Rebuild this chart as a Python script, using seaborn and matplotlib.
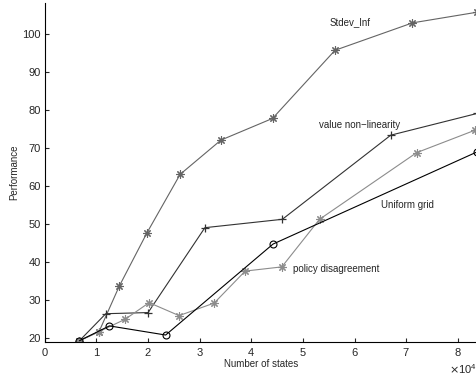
import pandas as pd
import matplotlib
import matplotlib.pyplot as plt
import seaborn as sns
from matplotlib.ticker import ScalarFormatter

# values (states, performance)
stdev_x = [6700, 10500, 14400, 19800, 26200, 34100, 44100, 56200, 71200, 83700]
stdev_y = [19.3, 21.7, 33.6, 47.7, 63.0, 72.0, 77.7, 95.6, 102.8, 105.6]

nonlin_x = [6700, 11800, 20000, 31000, 46000, 67000, 83700]
nonlin_y = [19.3, 26.4, 26.7, 49.0, 51.2, 73.3, 79.0]

policy_x = [6700, 10500, 15500, 20200, 26000, 32800, 38800, 45900, 53200, 72000, 83300]
policy_y = [19.3, 21.7, 24.9, 29.3, 25.9, 29.2, 37.6, 38.7, 51.2, 68.7, 74.6]

grid_x = [6700, 12500, 23400, 44200, 83700]
grid_y = [19.3, 23.2, 20.8, 44.7, 68.9]

sns.set_style('white')
plt.rcParams['font.family'] = ['Liberation Sans', 'DejaVu Sans']

fig = plt.figure(figsize=(4.77, 3.85), dpi=100)
ax = fig.add_axes([0.094, 0.112, 0.906, 0.88])

# matlab-style asterisk: 8 spokes
star = (8, 2, 0)
sns.lineplot(x=stdev_x, y=stdev_y, ax=ax, color='#646464', marker=star, markersize=6,
             markeredgecolor='#646464', markeredgewidth=0.8, linewidth=0.8, sort=False)
sns.lineplot(x=nonlin_x, y=nonlin_y, ax=ax, color='#323232', marker='+', markersize=6,
             markeredgecolor='#323232', markeredgewidth=0.9, linewidth=0.8, sort=False)
sns.lineplot(x=policy_x, y=policy_y, ax=ax, color='#8c8c8c', marker=star, markersize=6,
             markeredgecolor='#8c8c8c', markeredgewidth=0.8, linewidth=0.8, sort=False)
sns.lineplot(x=grid_x, y=grid_y, ax=ax, color='black', marker='o', markersize=5,
             markerfacecolor='none', markeredgecolor='black', markeredgewidth=0.8,
             linewidth=0.8, sort=False)

ax.text(55200, 102.9, 'Stdev_Inf', fontsize=7, va='center')
ax.text(53100, 75.9, 'value non\u2212linearity', fontsize=7, va='center')
ax.text(65100, 54.9, 'Uniform grid', fontsize=7, va='center')
ax.text(48100, 38.1, 'policy disagreement', fontsize=7, va='center')

ax.set_xlim(0, 83700)
ax.set_ylim(19, 108)
ax.set_xticks([0, 10000, 20000, 30000, 40000, 50000, 60000, 70000, 80000])
ax.set_yticks([20, 30, 40, 50, 60, 70, 80, 90, 100])
fmt = ScalarFormatter(useMathText=True)
fmt.set_powerlimits((0, 0))
ax.xaxis.set_major_formatter(fmt)
ax.xaxis.get_offset_text().set_fontsize(8)

ax.set_xlabel('Number of states', fontsize=7, labelpad=1)
ax.set_ylabel('Performance', fontsize=7, labelpad=2)
ax.tick_params(direction='in', length=3, width=0.8, labelsize=8, pad=3,
               left=True, bottom=True)
for s in ['top', 'right']:
    ax.spines[s].set_visible(False)
for s in ['left', 'bottom']:
    ax.spines[s].set_color('black')
    ax.spines[s].set_linewidth(0.8)

plt.savefig('out.png', dpi=100)
